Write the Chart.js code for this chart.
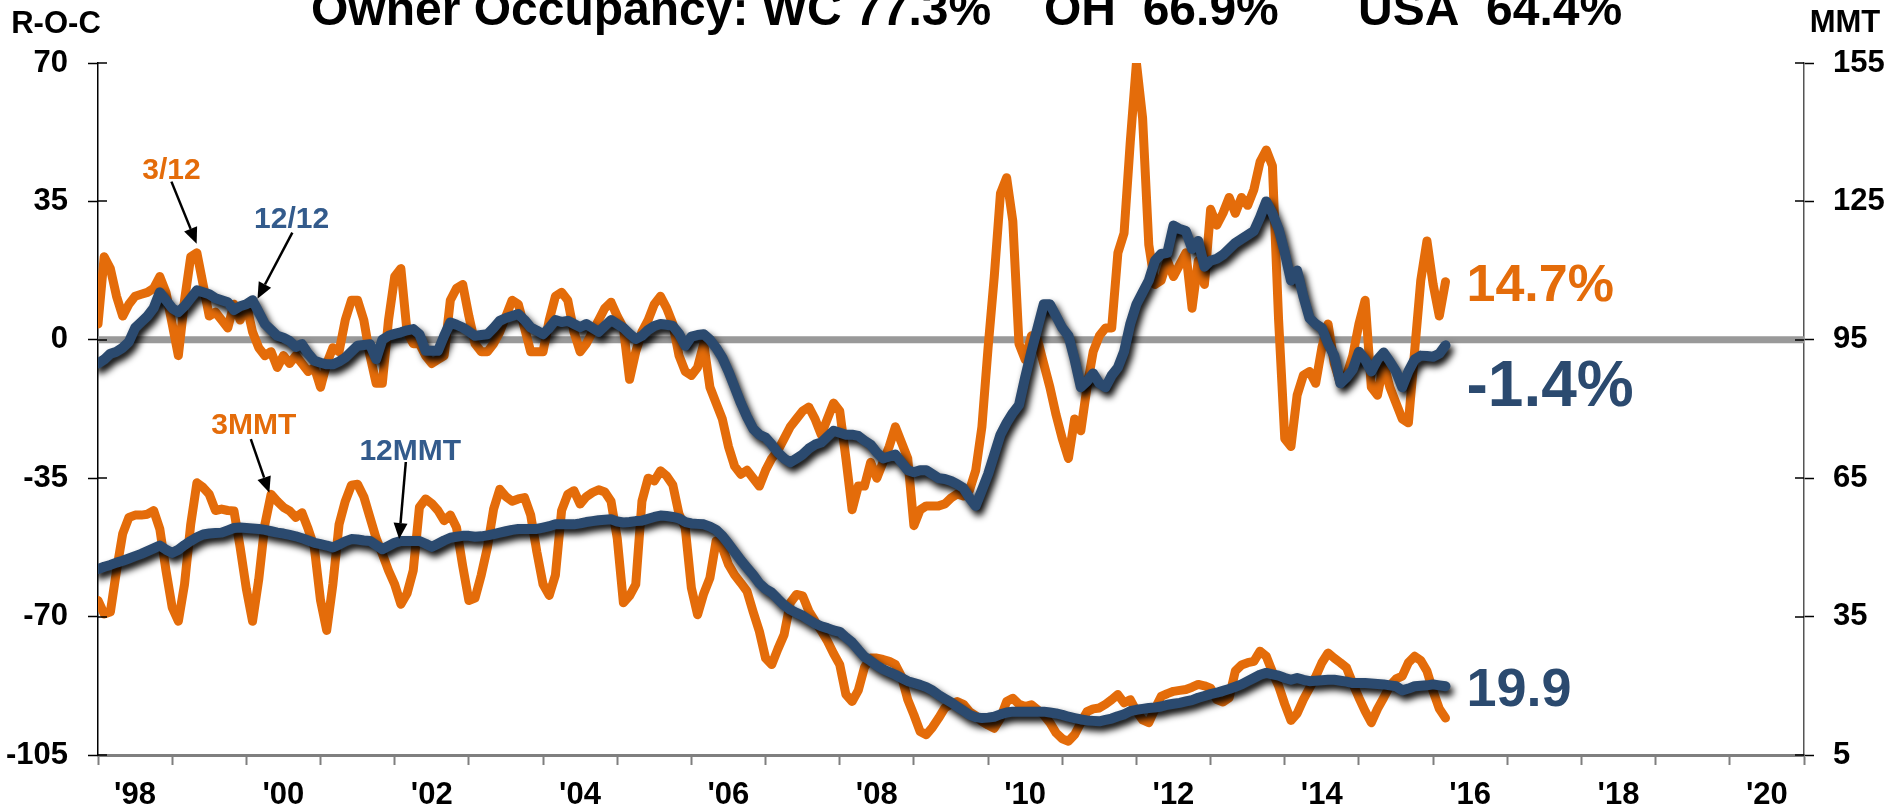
<!DOCTYPE html>
<html>
<head>
<meta charset="utf-8">
<title>Owner Occupancy</title>
<script src="https://cdn.jsdelivr.net/npm/chart.js@4.4.1/dist/chart.umd.min.js"></script>
<style>
  html, body { margin: 0; padding: 0; background: #fff; }
  #myChart { display: block; }
</style>
</head>
<body>
<canvas id="myChart" width="1893" height="812"></canvas>
<script>
// Monthly series, first value is Jan 1998
var startYear = 1998;

// 3/12 rate of change (left axis, %)
var roc3 = [
  4, 21, 18, 11, 6, 9, 11, 11.5, 12, 13, 16, 12,
  4, -4, 10, 21, 22, 14, 6, 7, 5, 3, 9, 5,
  9, 2, -2, -4, -3, -7, -4, -6, -4, -6, -8, -7,
  -12, -6, -2, -3, 5, 10, 10, 5, -4, -11, -11, 5,
  16, 18, 2, -1, -1, -4, -6, -5, -4, 10, 13, 14,
  6, -1, -3, -3, -1, 2, 6, 10, 9, 3, -3, -3,
  -3, 5, 11, 12, 10, 2, -3, -1, 2, 5, 8, 9.5,
  6, 3, -10, -3, 2, 5, 9, 11, 8, 4, -4, -8,
  -9, -7, -1, -12, -16, -20, -27, -32, -34, -33, -35, -37,
  -33, -30, -28, -25, -22, -20, -18, -17, -20, -24, -20, -16,
  -18, -30, -43, -37, -37, -31, -35, -31, -27, -22, -26, -30,
  -47, -43, -42, -42, -42, -41.5, -40, -39, -39.5, -38, -33, -22,
  -2, 16, 37, 41, 30, -1, -5, 1, 0, -6, -12, -19,
  -25, -30, -20, -23, -12, -3, 1, 3, 3, 22, 27, 50,
  70, 56, 24, 14, 15, 20, 16, 19, 22, 8, 20, 14,
  33, 29, 32, 36, 32, 36, 34, 38, 45, 48, 44, 5,
  -25, -27, -14, -9, -8, -11, -2, 4, -6, -11, -9, -4,
  4, 10, -12, -14, -6, -12, -16, -20, -21, -3, 15, 25,
  14, 6, 14.7
];

// 12/12 rate of change (left axis, %)
var roc12 = [
  -6, -5, -3.5, -3, -2, -0.5, 3, 4.5, 6, 8, 12, 10,
  8, 7, 8.5, 10.5, 12.5, 12, 11.5, 10.5, 10, 9.5, 7.5, 8.5,
  9, 10, 7, 4, 2.5, 1, 0.5, -0.3, -1.8, -1.1, -3.5, -5.3,
  -5.8, -6.2, -6.2, -5.5, -4.5, -3, -1.5, -1.3, -1.1, -4.9, 0, 1,
  1.5, 1.9, 2.4, 2.7, 1.4, -2.8, -2.8, -2.8, 1, 4.4, 3.8, 3.1,
  2.1, 1, 1.2, 1.4, 3, 4.8, 5.5, 6, 6.5, 5, 3.1, 2.3,
  1.4, 3, 5, 4.5, 4.8, 4, 3.2, 4, 3, 2, 3.5, 5,
  4, 3, 1.5, 0.2, 1, 2.5, 3.5, 4, 3.8, 3.5, 1.5, -1.5,
  0.8, 1.2, 1.4, 0, -2, -4.5, -8, -12, -16, -19.5, -22.5, -24,
  -24.7, -26.5, -28.5, -30, -31, -30, -29, -27.5, -26.5, -26, -24.5, -23,
  -23.5, -24, -24, -24.3, -25.5, -26.5, -28.5, -30, -29.5, -29, -31, -33,
  -33.5, -33, -33, -34, -35, -35.2, -35.7, -36.5, -37.5, -40, -42, -38,
  -34, -29, -24, -21, -18.5, -16.5, -9.5, -3, 3, 9, 9, 6,
  3, 1, -5, -12, -10.5, -8.5, -11, -12, -9, -7, -3, 4,
  9, 12, 15, 20, 21.7, 22, 28.9, 28, 27.5, 23, 25, 18.5,
  20, 20.5, 21.5, 23, 24.5, 25.5, 26.5, 27.5, 31, 35, 32, 28,
  22, 15, 17.5, 11, 5.5, 4, 3, -1, -4, -11, -9.5, -7.5,
  -3, -5, -8, -5, -3.2, -5.5, -8, -12, -8, -5, -4, -4.1,
  -4.3, -3.5, -1.4
];

// 3 month moving total (right axis)
var mmt3 = [
  38.5, 35.6, 36, 45, 53, 56.5, 57, 57, 57.2, 58, 54, 45,
  37, 34, 42, 55, 64, 63, 61.5, 58, 58.3, 58, 57.9, 50,
  41, 34, 43, 55, 61.5, 60, 58.7, 57.9, 56.5, 57.5, 54, 50,
  38.5, 32, 42, 55, 60, 63.5, 63.7, 61, 56.5, 52, 48.6, 45,
  42, 37.7, 40, 45, 58.7, 60.5, 59.5, 58, 55.8, 57, 54.3, 46,
  38.5, 39, 44, 50, 58.3, 62.6, 61, 60, 60.5, 60.8, 57, 49,
  42, 39.6, 44, 58, 61.5, 62.3, 59.4, 61, 61.9, 62.5, 62, 60,
  52, 38, 39.5, 42, 60, 65, 64.4, 66.6, 65.5, 63.5, 57.2, 54.3,
  41.2, 35.4, 40, 43.4, 51.4, 50, 46.3, 44, 42.3, 40.5, 36, 31.8,
  26, 24.6, 28, 31.1, 38, 39.8, 39.5, 36.2, 34, 32, 29.7, 27,
  24.6, 18.1, 16.6, 19, 24, 26, 26, 25.7, 25.3, 24.6, 22, 17,
  13.7, 10.1, 9.4, 11, 13, 15.2, 16, 16.6, 16, 14.4, 13.5, 12.3,
  11.5, 10.8, 13, 16.6, 17.3, 16, 15.5, 15.9, 14.8, 13.7, 12, 9.8,
  8.5, 8, 9.4, 12, 14.4, 15, 15.2, 16, 17, 18.1, 16.3, 17,
  14.5, 12.6, 12, 15, 17.7, 18.3, 18.8, 19, 19.2, 19.7, 20.3, 20,
  19.5, 17, 16.5, 17.4, 23.2, 24.5, 25, 25.3, 27.5, 26.4, 23, 20,
  16, 12.5, 14, 17, 19.5, 22, 25, 27.1, 26, 25, 23.9, 20.5,
  17.4, 14.5, 12, 15, 17.4, 20, 21.5, 22.1, 25, 26.4, 25.5, 23.2,
  18.8, 15, 13
];

// 12 month moving total (right axis)
var mmt12 = [
  45.3, 45.8, 46.2, 46.7, 47.1, 47.6, 48.1, 48.6, 49.2, 49.8, 50.4, 49.5,
  48.8, 49.5, 50.5, 51.4, 52.2, 52.8, 53, 53.1, 53.2, 53.7, 54.2, 54.3,
  54.2, 54.1, 54, 53.8, 53.5, 53.2, 53, 52.7, 52.4, 52, 51.5, 51,
  50.7, 50.4, 50, 50.6, 51.3, 51.8, 51.7, 51.5, 51.4, 50.5, 49.6, 50.3,
  51, 51.4, 51.4, 51.4, 51.4, 50.8, 50.1, 50.8, 51.5, 52.1, 52.3, 52.5,
  52.5, 52.3, 52.4, 52.6, 52.9, 53.2, 53.5, 53.8, 54, 54, 54, 54,
  54.3, 54.6, 55, 55, 55, 55, 55.2, 55.5, 55.7, 55.9, 56, 56.1,
  55.6, 55.4, 55.5, 55.7, 55.8, 56.2, 56.6, 56.9, 56.8, 56.6, 56.3, 55.5,
  55.2, 55.1, 55, 54.5, 53.8, 52.5, 50.8, 49, 47.2, 45.6, 44, 42.2,
  41, 40.2, 38.8, 37.5, 36.5, 35.8, 35.2, 34.3, 33.5, 32.9, 32.5, 32,
  31.7, 30.5, 29.4, 27.8, 26.3, 25.4, 24.4, 23.6, 23, 22.4, 21.7, 21,
  20.6, 20.2, 19.7, 19, 18, 17.2, 16.4, 15.5, 14.6, 13.7, 13.2, 13,
  13.1, 13.3, 13.8, 14.2, 14.4, 14.4, 14.4, 14.4, 14.4, 14.4, 14.2, 14,
  13.7, 13.3, 13, 12.7, 12.5, 12.4, 12.3, 12.6, 12.9, 13.4, 13.8, 14.5,
  14.8, 15, 15.2, 15.3, 15.5, 15.9, 16.1, 16.3, 16.6, 16.9, 17.4, 17.8,
  18.2, 18.5, 18.9, 19.3, 19.8, 20.3, 21, 21.7, 22.4, 22.8, 22.5, 22.2,
  21.7, 21.3, 21.7, 21.3, 21, 21.1, 21.2, 21.3, 21.3, 21.1, 20.9, 20.6,
  20.6, 20.6, 20.5, 20.4, 20.3, 20.1, 19.9, 19, 19.4, 19.9, 20, 20.1,
  20.3, 20.1, 19.9
];

// axis ranges
var rocTicks = { min: -105, max: 70, step: 35 };
var mmtTicks = { min: 5, max: 155, step: 30 };
var yearRange = { min: 1998, max: 2021 };

var orange = "#E46C0A";
var navy = "#2B4A6F";
var labelBlue = "#335B8C";
var fontFamily = '"Liberation Sans", Arial, sans-serif';

function toPoints(values) {
  return values.map(function (v, i) {
    return { x: startYear + i / 12, y: v };
  });
}

// drop shadow under the dark blue lines
var shadowPlugin = {
  id: 'lineShadow',
  beforeDatasetDraw: function (chart, args) {
    if (!chart.data.datasets[args.index].shadow) return;
    var ctx = chart.ctx;
    ctx.save();
    ctx.shadowColor = 'rgba(0,0,0,1)';
    ctx.shadowBlur = 7;
    ctx.shadowOffsetX = 3;
    ctx.shadowOffsetY = 5;
  },
  afterDatasetDraw: function (chart, args) {
    if (chart.data.datasets[args.index].shadow) chart.ctx.restore();
  }
};

// y tick marks cross the axis line: add the inner half
var crossTicks = {
  id: 'crossTicks',
  afterDraw: function (chart) {
    var ctx = chart.ctx, area = chart.chartArea;
    ctx.save();
    ctx.strokeStyle = '#000';
    ctx.lineWidth = 1.5;
    ['y', 'y1'].forEach(function (id) {
      var s = chart.scales[id];
      var x0 = id === 'y' ? area.left : area.right;
      var dir = id === 'y' ? 1 : -1;
      s.ticks.forEach(function (t) {
        var py = Math.round(s.getPixelForValue(t.value));
        ctx.beginPath();
        ctx.moveTo(x0, py);
        ctx.lineTo(x0 + dir * 9, py);
        ctx.stroke();
      });
    });
    ctx.restore();
  }
};

// call-outs, in data units of the x axis and the left axis
var callouts = [
  { text: '3/12', color: orange, at: [1998.99, 42.8], from: [1998.99, 40.0], to: [1999.33, 24.3] },
  { text: '12/12', color: labelBlue, at: [2000.61, 30.4], from: [2000.62, 27.1], to: [2000.15, 10.4] },
  { text: '3MMT', color: orange, at: [2000.10, -21.8], from: [2000.06, -25.1], to: [2000.31, -38.7] },
  { text: '12MMT', color: labelBlue, at: [2002.21, -28.4], from: [2002.15, -30.9], to: [2002.06, -50.4] }
];

var notesPlugin = {
  id: 'notes',
  afterDraw: function (chart) {
    var ctx = chart.ctx;
    var xs = chart.scales.x, ys = chart.scales.y, ys1 = chart.scales.y1;
    ctx.save();

    // title, cut off at the top edge
    ctx.fillStyle = '#000';
    ctx.textBaseline = 'alphabetic';
    ctx.textAlign = 'left';
    ctx.font = 'bold 48px ' + fontFamily;
    ctx.fillText('Owner Occupancy: WC 77.3%', 311, 25);
    ctx.fillText('OH  66.9%', 1044, 25);
    ctx.fillText('USA  64.4%', 1358, 25);

    // axis titles
    ctx.font = 'bold 31px ' + fontFamily;
    ctx.textAlign = 'center';
    ctx.fillText('R-O-C', 56, 33);
    ctx.fillText('MMT', 1845, 32);

    // call-outs with arrows
    callouts.forEach(function (c) {
      var tx = xs.getPixelForValue(c.at[0]), ty = ys.getPixelForValue(c.at[1]);
      ctx.font = 'bold 30px ' + fontFamily;
      ctx.fillStyle = c.color;
      ctx.textAlign = 'center';
      ctx.textBaseline = 'middle';
      ctx.fillText(c.text, tx, ty);

      var x1 = xs.getPixelForValue(c.from[0]), y1 = ys.getPixelForValue(c.from[1]);
      var x2 = xs.getPixelForValue(c.to[0]), y2 = ys.getPixelForValue(c.to[1]);
      var a = Math.atan2(y2 - y1, x2 - x1);
      var head = 16, half = 7;
      ctx.strokeStyle = '#000';
      ctx.fillStyle = '#000';
      ctx.lineWidth = 2.5;
      ctx.beginPath();
      ctx.moveTo(x1, y1);
      ctx.lineTo(x2 - Math.cos(a) * head, y2 - Math.sin(a) * head);
      ctx.stroke();
      ctx.beginPath();
      ctx.moveTo(x2, y2);
      ctx.lineTo(x2 - Math.cos(a) * head - Math.sin(a) * half, y2 - Math.sin(a) * head + Math.cos(a) * half);
      ctx.lineTo(x2 - Math.cos(a) * head + Math.sin(a) * half, y2 - Math.sin(a) * head - Math.cos(a) * half);
      ctx.closePath();
      ctx.fill();
    });

    // latest values at the end of the lines
    var lx = xs.getPixelForValue(2016.45);
    ctx.textAlign = 'left';
    ctx.textBaseline = 'alphabetic';
    ctx.fillStyle = orange;
    ctx.font = 'bold 52px ' + fontFamily;
    ctx.fillText(roc3[roc3.length - 1].toFixed(1) + '%', lx, ys.getPixelForValue(14.7) + 19);
    ctx.fillStyle = navy;
    ctx.font = 'bold 64px ' + fontFamily;
    ctx.fillText(roc12[roc12.length - 1].toFixed(1) + '%', lx, ys.getPixelForValue(-10.9) + 23);
    ctx.font = 'bold 54px ' + fontFamily;
    ctx.fillText(mmt12[mmt12.length - 1].toFixed(1), lx, ys1.getPixelForValue(19.9) + 20);

    ctx.restore();
  }
};

var tickFont = { family: fontFamily, size: 31, weight: 'bold' };

var ctx = document.getElementById("myChart");
var myChart = new Chart(ctx, {
  type: 'line',
  data: {
    datasets: [
      {
        label: 'zero',
        data: [{ x: yearRange.min, y: 0 }, { x: yearRange.max, y: 0 }],
        yAxisID: 'y',
        borderColor: '#999999',
        borderWidth: 7,
        borderCapStyle: 'butt',
        order: 10
      },
      {
        label: '3/12',
        data: toPoints(roc3),
        yAxisID: 'y',
        borderColor: orange,
        borderWidth: 9,
        order: 4
      },
      {
        label: '3MMT',
        data: toPoints(mmt3),
        yAxisID: 'y1',
        borderColor: orange,
        borderWidth: 9,
        order: 3
      },
      {
        label: '12MMT',
        data: toPoints(mmt12),
        yAxisID: 'y1',
        borderColor: navy,
        borderWidth: 10,
        shadow: true,
        order: 2
      },
      {
        label: '12/12',
        data: toPoints(roc12),
        yAxisID: 'y',
        borderColor: navy,
        borderWidth: 10,
        shadow: true,
        order: 1
      }
    ]
  },
  options: {
    responsive: false,
    animation: false,
    layout: { padding: { top: 63, left: 0, right: 0, bottom: 0 } },
    elements: {
      point: { radius: 0 },
      line: { tension: 0, fill: false, borderJoinStyle: 'round', borderCapStyle: 'round' }
    },
    plugins: {
      legend: { display: false },
      tooltip: { enabled: false }
    },
    scales: {
      x: {
        type: 'linear',
        min: yearRange.min,
        max: yearRange.max,
        afterFit: function (s) { s.height = 57; },
        border: { display: true, color: '#7f7f7f', width: 3 },
        grid: { drawOnChartArea: false, drawTicks: true, tickLength: 10, tickColor: '#7f7f7f', tickWidth: 2 },
        ticks: {
          stepSize: 1,
          autoSkip: false,
          maxRotation: 0,
          labelOffset: 37,
          padding: 12,
          color: '#000',
          font: tickFont,
          callback: function (v) {
            return (v % 2 === 0 && v < yearRange.max) ? "'" + String(v).slice(2) : '';
          }
        }
      },
      y: {
        position: 'left',
        min: rocTicks.min,
        max: rocTicks.max,
        afterFit: function (s) { s.width = 98; },
        border: { display: true, color: '#000', width: 1.5 },
        grid: { drawOnChartArea: false, tickLength: 10, tickColor: '#000', tickWidth: 1.5 },
        ticks: { stepSize: rocTicks.step, padding: 20, color: '#000', font: tickFont }
      },
      y1: {
        position: 'right',
        min: mmtTicks.min,
        max: mmtTicks.max,
        afterFit: function (s) { s.width = 89; },
        border: { display: true, color: '#555', width: 1.5 },
        grid: { drawOnChartArea: false, tickLength: 10, tickColor: '#000', tickWidth: 1.5 },
        ticks: { stepSize: mmtTicks.step, padding: 19, color: '#000', font: tickFont }
      }
    }
  },
  plugins: [shadowPlugin, crossTicks, notesPlugin]
});
</script>
</body>
</html>
